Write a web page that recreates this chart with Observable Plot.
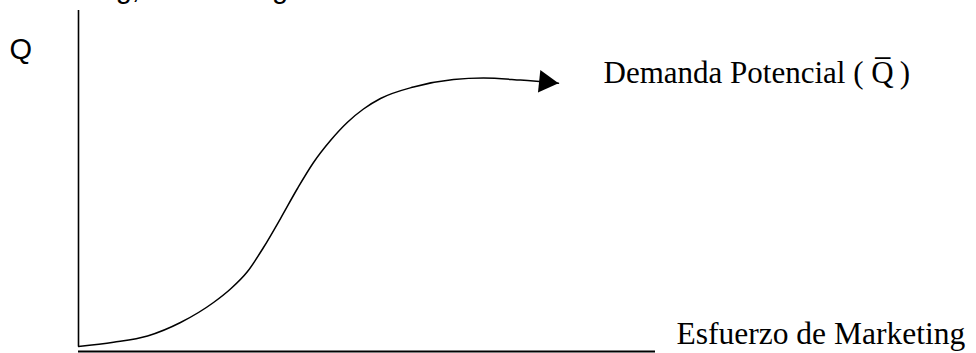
<!DOCTYPE html>
<html>
<head>
<meta charset="utf-8">
<script src="https://cdn.jsdelivr.net/npm/d3@7"></script>
<script src="https://cdn.jsdelivr.net/npm/@observablehq/plot@0.6"></script>
<style>
  html, body { margin: 0; padding: 0; background: #fff; }
  #chart { width: 976px; height: 353px; overflow: hidden; }
</style>
</head>
<body>
<div id="chart"></div>
<script>
// Marketing effort (arbitrary units 0–100) and demand Q (arbitrary units 0–100)
const effort = [0, 6.07, 11.96, 17.68, 23.40, 26.34, 29.29, 32.06, 35.01, 37.95, 40.73, 43.67, 46.62, 49.39, 52.34, 58.06, 64.99, 70.19, 76.60, 83.19];
const demand = [1.47, 2.70, 4.55, 8.50, 14.37, 18.33, 23.46, 30.50, 39.00, 47.80, 55.43, 61.88, 67.24, 71.11, 74.19, 77.57, 79.77, 80.21, 79.60, 78.68];

const introText = "marketing, sería la siguiente:";
const yLabel = "Q";
const xLabel = "Esfuerzo de Marketing";
const curveLabel = "Demanda Potencial ( Q\u0305\u2009)";

const curve = effort.map((e, i) => ({effort: e, q: demand[i]}));
const tip = curve[curve.length - 1];

const chart = Plot.plot({
  width: 976,
  height: 353,
  margin: 0,
  x: {domain: [0, 100], range: [78, 655], axis: null},
  y: {domain: [0, 100], range: [351, 10], axis: null},
  style: {background: "#fff"},
  marks: [
    // y axis
    Plot.ruleX([0], {y1: demand[0], y2: 100, stroke: "#000", strokeWidth: 1.6}),
    // x axis
    Plot.ruleY([0], {x1: 0, x2: 100, stroke: "#000", strokeWidth: 2}),
    // S-curve
    Plot.line(curve, {x: "effort", y: "q", curve: "monotone-x", stroke: "#000", strokeWidth: 1.5}),
    // arrow head
    Plot.dot([tip], {x: "effort", y: "q", symbol: "triangle", r: 8.35, rotate: 96, fill: "#000", stroke: "none", dx: -12.9, dy: -1.3}),
    // labels
    Plot.text([tip], {x: "effort", y: "q", text: () => curveLabel, dx: 45, dy: 0, textAnchor: "start", lineAnchor: "bottom",
      fontFamily: "Liberation Serif, Times New Roman, serif", fontSize: 31, fill: "#000"}),
    Plot.text([{effort: 100, q: 0}], {x: "effort", y: "q", text: () => xLabel, dx: 21, dy: -8, textAnchor: "start", lineAnchor: "bottom",
      fontFamily: "Liberation Serif, Times New Roman, serif", fontSize: 31.5, fill: "#000"}),
    Plot.text([{effort: 0, q: 100}], {x: "effort", y: "q", text: () => yLabel, dx: -69, dy: 48, textAnchor: "start", lineAnchor: "bottom",
      fontFamily: "Liberation Sans, Arial, sans-serif", fontSize: 29, fill: "#000"}),
    Plot.text([introText], {frameAnchor: "top-left", text: d => d, dx: 4, dy: -3, textAnchor: "start", lineAnchor: "bottom",
      fontFamily: "Liberation Sans, Arial, sans-serif", fontSize: 29, fill: "#000"})
  ]
});
document.getElementById("chart").appendChild(chart);
</script>
</body>
</html>
